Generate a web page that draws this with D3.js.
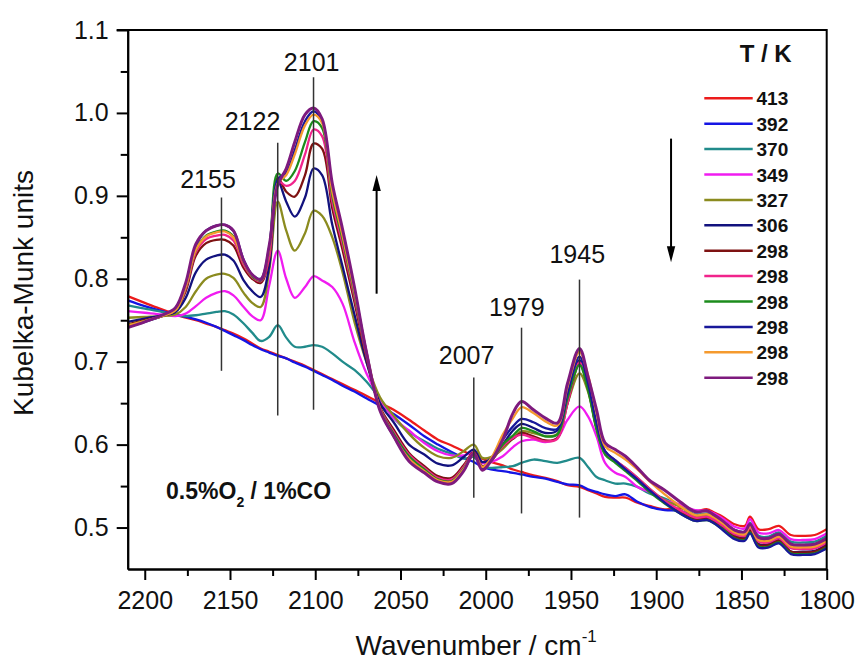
<!DOCTYPE html>
<html>
<head>
<meta charset="utf-8">
<script src="https://cdn.jsdelivr.net/npm/d3@7"></script>
<style>
  html, body { margin: 0; padding: 0; background: #fff; }
  svg { display: block; font-family: "Liberation Sans", Arial, sans-serif; }
</style>
</head>
<body>
<svg id="chart" width="861" height="664"></svg>
<script>
// Wavenumber grid (cm^-1) shared by every spectrum
const wavenumbers = [
  2210, 2200, 2190, 2182, 2176, 2170, 2164, 2158, 2153, 2148,
  2142, 2137, 2132, 2127, 2122, 2117, 2112, 2106, 2101, 2096,
  2090, 2084, 2077, 2070, 2062, 2054, 2045, 2036, 2028, 2020,
  2013, 2007, 2002, 1997, 1990, 1984, 1979, 1972, 1965, 1958,
  1952, 1945, 1940, 1935, 1930, 1924, 1918, 1911, 1904, 1895,
  1886, 1877, 1870, 1866, 1861, 1854, 1848, 1845, 1840, 1834,
  1828, 1821, 1814, 1807, 1800
];

// Kubelka-Munk spectra, one array per temperature step
const km413 = [
  0.779, 0.771, 0.763, 0.757, 0.753, 0.750, 0.746, 0.742, 0.738, 0.734,
  0.728, 0.722, 0.716, 0.712, 0.708, 0.704, 0.700, 0.695, 0.690, 0.685,
  0.679, 0.673, 0.666, 0.659, 0.650, 0.642, 0.630, 0.617, 0.606, 0.599,
  0.592, 0.587, 0.583, 0.579, 0.575, 0.570, 0.567, 0.563, 0.560, 0.556,
  0.551, 0.549, 0.545, 0.541, 0.537, 0.536, 0.536, 0.530, 0.526, 0.522,
  0.523, 0.520, 0.522, 0.518, 0.513, 0.504, 0.502, 0.513, 0.498, 0.498,
  0.502, 0.491, 0.490, 0.491, 0.498
];
const km392 = [
  0.774, 0.767, 0.761, 0.757, 0.754, 0.751, 0.747, 0.742, 0.737, 0.732,
  0.726, 0.720, 0.715, 0.711, 0.707, 0.704, 0.699, 0.694, 0.689, 0.684,
  0.678, 0.671, 0.664, 0.656, 0.647, 0.637, 0.624, 0.610, 0.600, 0.591,
  0.584, 0.579, 0.573, 0.570, 0.568, 0.566, 0.564, 0.561, 0.559, 0.555,
  0.552, 0.551, 0.546, 0.543, 0.540, 0.538, 0.540, 0.531, 0.525, 0.521,
  0.520, 0.514, 0.515, 0.511, 0.506, 0.497, 0.495, 0.505, 0.488, 0.488,
  0.493, 0.480, 0.479, 0.480, 0.487
];
const km370 = [
  0.768, 0.764, 0.760, 0.756, 0.755, 0.756, 0.758, 0.760, 0.761, 0.757,
  0.746, 0.735, 0.725, 0.730, 0.744, 0.729, 0.718, 0.718, 0.720, 0.718,
  0.710, 0.700, 0.690, 0.676, 0.655, 0.632, 0.615, 0.604, 0.595, 0.589,
  0.583, 0.585, 0.574, 0.572, 0.573, 0.574, 0.578, 0.582, 0.580, 0.578,
  0.581, 0.584, 0.573, 0.561, 0.557, 0.553, 0.553, 0.549, 0.541, 0.535,
  0.526, 0.516, 0.517, 0.513, 0.507, 0.497, 0.495, 0.506, 0.490, 0.489,
  0.494, 0.483, 0.482, 0.483, 0.490
];
const km349 = [
  0.761, 0.759, 0.757, 0.755, 0.758, 0.767, 0.777, 0.783, 0.785, 0.780,
  0.766, 0.755, 0.750, 0.792, 0.834, 0.800, 0.777, 0.790, 0.803, 0.798,
  0.790, 0.770, 0.724, 0.686, 0.655, 0.632, 0.617, 0.602, 0.592, 0.587,
  0.587, 0.590, 0.578, 0.579, 0.586, 0.597, 0.604, 0.606, 0.603, 0.608,
  0.630, 0.646, 0.634, 0.610, 0.578, 0.566, 0.561, 0.549, 0.543, 0.533,
  0.528, 0.521, 0.520, 0.517, 0.511, 0.501, 0.499, 0.510, 0.494, 0.493,
  0.497, 0.486, 0.485, 0.486, 0.493
];
const km327 = [
  0.753, 0.754, 0.755, 0.757, 0.766, 0.785, 0.800, 0.805, 0.806, 0.801,
  0.783, 0.771, 0.766, 0.810, 0.893, 0.858, 0.834, 0.855, 0.882, 0.876,
  0.850, 0.808, 0.748, 0.700, 0.657, 0.635, 0.613, 0.596, 0.586, 0.584,
  0.592, 0.600, 0.584, 0.585, 0.595, 0.608, 0.616, 0.614, 0.610, 0.613,
  0.650, 0.686, 0.664, 0.620, 0.590, 0.580, 0.572, 0.560, 0.547, 0.533,
  0.525, 0.514, 0.515, 0.511, 0.504, 0.494, 0.492, 0.502, 0.486, 0.485,
  0.490, 0.477, 0.476, 0.477, 0.484
];
const km306 = [
  0.748, 0.752, 0.756, 0.760, 0.777, 0.808, 0.823, 0.828, 0.829, 0.822,
  0.798, 0.785, 0.778, 0.815, 0.918, 0.893, 0.875, 0.898, 0.933, 0.925,
  0.865, 0.815, 0.757, 0.700, 0.650, 0.627, 0.600, 0.588, 0.577, 0.575,
  0.585, 0.594, 0.579, 0.583, 0.600, 0.617, 0.625, 0.620, 0.614, 0.617,
  0.656, 0.702, 0.672, 0.624, 0.592, 0.581, 0.571, 0.559, 0.546, 0.531,
  0.520, 0.511, 0.512, 0.508, 0.501, 0.490, 0.488, 0.497, 0.480, 0.480,
  0.485, 0.471, 0.471, 0.472, 0.480
];
const km298a = [
  0.745, 0.750, 0.755, 0.762, 0.785, 0.828, 0.843, 0.847, 0.847, 0.840,
  0.813, 0.800, 0.795, 0.825, 0.922, 0.905, 0.899, 0.925, 0.963, 0.957,
  0.885, 0.835, 0.772, 0.705, 0.645, 0.618, 0.590, 0.574, 0.562, 0.560,
  0.575, 0.591, 0.574, 0.580, 0.598, 0.607, 0.614, 0.610, 0.605, 0.608,
  0.650, 0.698, 0.668, 0.620, 0.590, 0.580, 0.570, 0.558, 0.545, 0.530,
  0.519, 0.510, 0.511, 0.507, 0.500, 0.489, 0.487, 0.496, 0.479, 0.479,
  0.484, 0.471, 0.470, 0.471, 0.478
];
const km298b = [
  0.743, 0.749, 0.755, 0.762, 0.788, 0.832, 0.848, 0.852, 0.853, 0.846,
  0.817, 0.802, 0.797, 0.826, 0.918, 0.912, 0.918, 0.950, 0.980, 0.972,
  0.893, 0.842, 0.778, 0.708, 0.644, 0.615, 0.588, 0.572, 0.560, 0.558,
  0.573, 0.590, 0.573, 0.580, 0.598, 0.608, 0.612, 0.608, 0.604, 0.607,
  0.650, 0.699, 0.669, 0.621, 0.591, 0.581, 0.572, 0.560, 0.547, 0.532,
  0.521, 0.512, 0.513, 0.509, 0.502, 0.492, 0.490, 0.500, 0.483, 0.482,
  0.487, 0.475, 0.474, 0.475, 0.482
];
const km298c = [
  0.744, 0.749, 0.755, 0.762, 0.790, 0.835, 0.852, 0.857, 0.858, 0.851,
  0.820, 0.803, 0.798, 0.835, 0.927, 0.918, 0.930, 0.965, 0.990, 0.982,
  0.900, 0.848, 0.782, 0.710, 0.643, 0.613, 0.586, 0.570, 0.558, 0.556,
  0.571, 0.589, 0.572, 0.580, 0.600, 0.611, 0.620, 0.616, 0.610, 0.612,
  0.656, 0.696, 0.666, 0.618, 0.588, 0.578, 0.568, 0.556, 0.543, 0.529,
  0.517, 0.508, 0.509, 0.505, 0.498, 0.487, 0.485, 0.494, 0.477, 0.477,
  0.482, 0.469, 0.468, 0.469, 0.476
];
const km298d = [
  0.742, 0.748, 0.755, 0.763, 0.793, 0.840, 0.858, 0.864, 0.865, 0.858,
  0.823, 0.805, 0.800, 0.838, 0.920, 0.928, 0.955, 0.990, 1.002, 0.990,
  0.910, 0.855, 0.787, 0.712, 0.642, 0.610, 0.583, 0.567, 0.556, 0.554,
  0.569, 0.588, 0.571, 0.582, 0.606, 0.622, 0.631, 0.627, 0.620, 0.619,
  0.662, 0.706, 0.674, 0.626, 0.592, 0.581, 0.570, 0.558, 0.545, 0.530,
  0.517, 0.508, 0.509, 0.505, 0.497, 0.486, 0.484, 0.493, 0.476, 0.476,
  0.481, 0.468, 0.467, 0.468, 0.475
];
const km298e = [
  0.744, 0.749, 0.755, 0.762, 0.790, 0.835, 0.851, 0.856, 0.857, 0.850,
  0.820, 0.804, 0.799, 0.835, 0.915, 0.925, 0.950, 0.985, 0.998, 0.988,
  0.905, 0.852, 0.785, 0.712, 0.643, 0.610, 0.583, 0.568, 0.557, 0.555,
  0.570, 0.588, 0.573, 0.583, 0.612, 0.632, 0.645, 0.638, 0.628, 0.623,
  0.670, 0.712, 0.684, 0.638, 0.598, 0.590, 0.582, 0.570, 0.556, 0.540,
  0.526, 0.515, 0.516, 0.512, 0.505, 0.494, 0.492, 0.501, 0.485, 0.484,
  0.489, 0.477, 0.476, 0.477, 0.484
];
const km298f = [
  0.741, 0.748, 0.756, 0.765, 0.795, 0.842, 0.858, 0.864, 0.865, 0.858,
  0.822, 0.805, 0.799, 0.840, 0.913, 0.933, 0.965, 0.998, 1.006, 0.993,
  0.915, 0.860, 0.790, 0.712, 0.641, 0.610, 0.580, 0.566, 0.555, 0.553,
  0.568, 0.589, 0.569, 0.580, 0.606, 0.638, 0.652, 0.642, 0.632, 0.626,
  0.674, 0.716, 0.682, 0.642, 0.602, 0.594, 0.586, 0.572, 0.557, 0.545,
  0.531, 0.519, 0.520, 0.515, 0.508, 0.497, 0.495, 0.504, 0.488, 0.487,
  0.492, 0.480, 0.479, 0.480, 0.487
];

const temperatureLabels = ["413", "392", "370", "349", "327", "306", "298", "298", "298", "298", "298", "298"];
const lineColors = ["#ec1b1b", "#1515e4", "#218b8b", "#f01cf0", "#8b8b1f", "#12127e",
                    "#7e1212", "#f1248c", "#1c8c1c", "#18189a", "#f59a2e", "#7e1a7e"];
const spectra = [km413, km392, km370, km349, km327, km306, km298a, km298b, km298c, km298d, km298e, km298f];

// Axis ticks
const xMajorTicks = [2200, 2150, 2100, 2050, 2000, 1950, 1900, 1850, 1800];
const xMinorTicks = [2175, 2125, 2075, 2025, 1975, 1925, 1875, 1825];
const yMajorTicks = [0.5, 0.6, 0.7, 0.8, 0.9, 1.0, 1.1];
const yMinorTicks = [0.55, 0.65, 0.75, 0.85, 0.95, 1.05];

// Band assignments: position, marker extent and label anchor
const peakPositions   = [2155, 2122, 2101, 2007, 1979, 1945];
const peakMarkerTop   = [0.898, 0.964, 1.043, 0.681, 0.741, 0.799];
const peakMarkerBottom= [0.689, 0.635, 0.642, 0.536, 0.517, 0.512];
const peakLabelX      = [2162.9, 2136.8, 2102.1, 2011.2, 1981.8, 1946.3];
const peakLabelY      = [0.910, 0.980, 1.050, 0.697, 0.755, 0.819];

// Trend arrows (wavenumber, tail, head)
const arrowX    = [2064, 1891.3];
const arrowTail = [0.782, 0.969];
const arrowHead = [0.925, 0.820];

const svg = d3.select("#chart");
const margin = { left: 127.7, right: 826.7, top: 30, bottom: 569 };

const x = d3.scaleLinear().domain([2210, 1800]).range([margin.left, margin.right]);
const y = d3.scaleLinear().domain([0.45, 1.1]).range([margin.bottom, margin.top]);

svg.append("rect").attr("width", 861).attr("height", 664).attr("fill", "#fff");

svg.append("defs").append("clipPath").attr("id", "plot-clip")
  .append("rect")
  .attr("x", margin.left).attr("y", margin.top)
  .attr("width", margin.right - margin.left).attr("height", margin.bottom - margin.top);

// Spectra
const line = d3.line()
  .x((d, i) => x(wavenumbers[i]))
  .y(d => y(d))
  .curve(d3.curveCatmullRom.alpha(0.5));

const plot = svg.append("g").attr("clip-path", "url(#plot-clip)");
spectra.forEach((vals, i) => {
  plot.append("path")
    .datum(vals)
    .attr("d", line)
    .attr("fill", "none")
    .attr("stroke", lineColors[i])
    .attr("stroke-width", i === spectra.length - 1 ? 3.0 : 2.3)
    .attr("stroke-linejoin", "round");
});

// Band markers and labels
const peaks = svg.append("g");
peakPositions.forEach((p, i) => {
  peaks.append("line")
    .attr("x1", x(p)).attr("x2", x(p))
    .attr("y1", y(peakMarkerTop[i])).attr("y2", y(peakMarkerBottom[i]))
    .attr("stroke", "#333").attr("stroke-width", 1.5);
  peaks.append("text")
    .attr("x", x(peakLabelX[i])).attr("y", y(peakLabelY[i]))
    .attr("text-anchor", "middle")
    .attr("font-size", 25)
    .attr("fill", "#111")
    .text(p);
});

// Arrows
arrowX.forEach((ax, i) => {
  const xs = x(ax), y0 = y(arrowTail[i]), y1 = y(arrowHead[i]);
  const dir = y1 < y0 ? 1 : -1;
  svg.append("line")
    .attr("x1", xs).attr("x2", xs)
    .attr("y1", y0).attr("y2", y1 + dir * 12)
    .attr("stroke", "#000").attr("stroke-width", 2);
  svg.append("path")
    .attr("d", `M${xs},${y1} L${xs - 4.2},${y1 + dir * 16} L${xs + 4.2},${y1 + dir * 16} Z`)
    .attr("fill", "#000");
});

// Axes
const axisStyle = g => {
  g.select(".domain").attr("stroke", "#000").attr("stroke-width", 2);
  g.selectAll(".tick line").attr("stroke", "#000").attr("stroke-width", 2);
  g.selectAll("text").attr("font-size", 25).attr("fill", "#111")
    .attr("font-family", "'Liberation Sans', Arial, sans-serif");
};

svg.append("g")
  .attr("transform", `translate(0,${margin.bottom})`)
  .call(d3.axisBottom(x).tickValues(xMinorTicks).tickSize(7).tickSizeOuter(0).tickFormat(""))
  .call(axisStyle);
svg.append("g")
  .attr("transform", `translate(0,${margin.bottom})`)
  .call(d3.axisBottom(x).tickValues(xMajorTicks).tickSize(11).tickSizeOuter(0).tickPadding(11).tickFormat(d3.format("d")))
  .call(axisStyle);

svg.append("g")
  .attr("transform", `translate(${margin.left},0)`)
  .call(d3.axisLeft(y).tickValues(yMinorTicks).tickSize(7).tickSizeOuter(0).tickFormat(""))
  .call(axisStyle);
svg.append("g")
  .attr("transform", `translate(${margin.left},0)`)
  .call(d3.axisLeft(y).tickValues(yMajorTicks).tickSize(11).tickSizeOuter(0).tickPadding(8).tickFormat(d3.format(".1f")))
  .call(axisStyle);

// Top and right frame
svg.append("path")
  .attr("d", `M${margin.left - 11},${margin.top} H${margin.right} V${margin.bottom}`)
  .attr("fill", "none").attr("stroke", "#000").attr("stroke-width", 2);

// Axis titles
const xTitle = svg.append("text")
  .attr("x", (margin.left + margin.right) / 2 - 1)
  .attr("y", 655)
  .attr("text-anchor", "middle")
  .attr("font-size", 28)
  .attr("fill", "#111");
xTitle.append("tspan").text("Wavenumber / cm");
xTitle.append("tspan").attr("font-size", 17).attr("dy", -13).text("-1");

svg.append("text")
  .attr("transform", "translate(33,293) rotate(-90)")
  .attr("text-anchor", "middle")
  .attr("font-size", 28)
  .attr("fill", "#111")
  .text("Kubelka-Munk units");

// Gas composition note
const note = svg.append("text")
  .attr("x", x(2187.5)).attr("y", y(0.534))
  .attr("font-size", 23).attr("font-weight", "bold").attr("fill", "#111");
note.append("tspan").text("0.5%O");
note.append("tspan").attr("font-size", 14).attr("dy", 8).text("2");
note.append("tspan").attr("dy", -8).text(" / 1%CO");

// Legend
const legend = svg.append("g");
legend.append("text")
  .attr("x", 791.7).attr("y", 62.3)
  .attr("text-anchor", "end")
  .attr("font-size", 24).attr("font-weight", "bold").attr("fill", "#111")
  .text("T / K");

temperatureLabels.forEach((t, i) => {
  const cy = 98.3 + i * 25.4;
  legend.append("line")
    .attr("x1", 704.3).attr("x2", 752.7)
    .attr("y1", cy).attr("y2", cy)
    .attr("stroke", lineColors[i]).attr("stroke-width", 2.5);
  legend.append("text")
    .attr("x", 756.5).attr("y", cy + 7)
    .attr("font-size", 19).attr("font-weight", "bold").attr("fill", "#111")
    .text(t);
});
</script>
</body>
</html>
